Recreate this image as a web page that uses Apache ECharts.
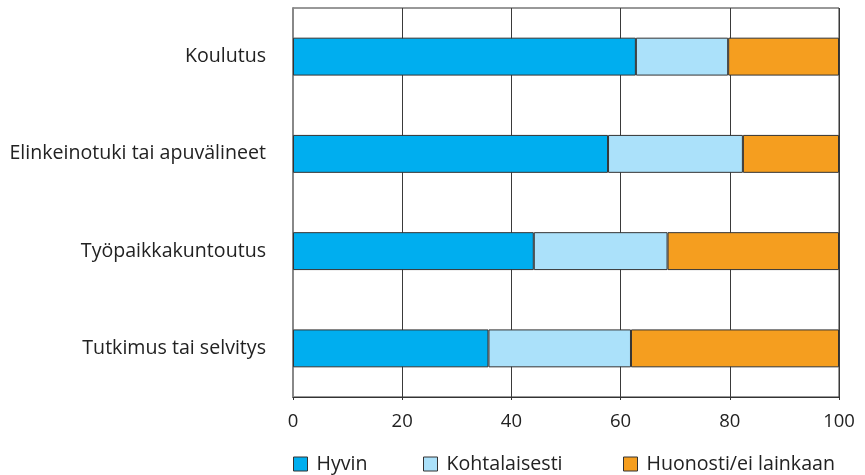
<!DOCTYPE html>
<html>
<head>
<meta charset="utf-8">
<script src="https://cdn.jsdelivr.net/npm/echarts@6/dist/echarts.min.js"></script>
<style>
  html, body { margin: 0; padding: 0; background: #fff; }
  #chart { width: 865px; height: 475px; }
</style>
</head>
<body>
<div id="chart"></div>
<script>
// Categories (top to bottom) and the share of answers per rating (%)
const categories = ['Koulutus', 'Elinkeinotuki tai apuvälineet', 'Työpaikkakuntoutus', 'Tutkimus tai selvitys'];
const seriesNames = ['Hyvin', 'Kohtalaisesti', 'Huonosti/ei lainkaan'];
const hyvin = [62.8, 57.7, 44.1, 35.8];
const kohtalaisesti = [16.9, 24.7, 24.5, 26.1];
const huonosti = [20.3, 17.6, 31.4, 38.1];
const xTicks = [0, 20, 40, 60, 80, 100];

const colors = ['#00aeef', '#abe1fa', '#f59e1f'];
const values = [hyvin, kohtalaisesti, huonosti];
const font = '"Open Sans", "Noto Sans", sans-serif';
const textColor = '#222';

const chart = echarts.init(document.getElementById('chart'), null, { renderer: 'canvas' });

const legendLeft = [293, 423, 623];

chart.setOption({
  animation: false,
  textStyle: { fontFamily: font },
  grid: {
    left: 293, right: 26, top: 8, bottom: 78,
    show: true, borderColor: '#333', borderWidth: 1
  },
  xAxis: {
    type: 'value',
    min: xTicks[0],
    max: xTicks[xTicks.length - 1],
    interval: xTicks[1] - xTicks[0],
    axisLine: { show: true, lineStyle: { color: '#333', width: 1 } },
    axisTick: { show: true, length: 3, lineStyle: { color: '#333' } },
    splitLine: { show: true, lineStyle: { color: '#3a3a3a', width: 1 } },
    axisLabel: { color: textColor, fontSize: 18.5, margin: 15, fontFamily: font }
  },
  yAxis: {
    type: 'category',
    inverse: true,
    data: categories,
    axisLine: { show: true, lineStyle: { color: '#888', width: 2 } },
    axisTick: { show: false },
    axisLabel: { color: textColor, fontSize: 19.6, margin: 27, fontFamily: font, padding: [0, 0, 6, 0] }
  },
  legend: seriesNames.map((n, i) => ({
    data: [n],
    left: legendLeft[i],
    top: 454,
    icon: 'rect',
    itemWidth: 14,
    itemHeight: 14,
    itemGap: 10,
    padding: 0,
    itemStyle: { borderColor: '#333', borderWidth: 1 },
    textStyle: { color: textColor, fontSize: 19.6, fontFamily: font, padding: [0, 0, 0, 4] }
  })),
  series: seriesNames.map((n, i) => ({
    name: n,
    type: 'bar',
    stack: 'total',
    barWidth: '39%',
    data: values[i],
    itemStyle: { color: colors[i], borderColor: '#333', borderWidth: 1 }
  }))
});
</script>
</body>
</html>
